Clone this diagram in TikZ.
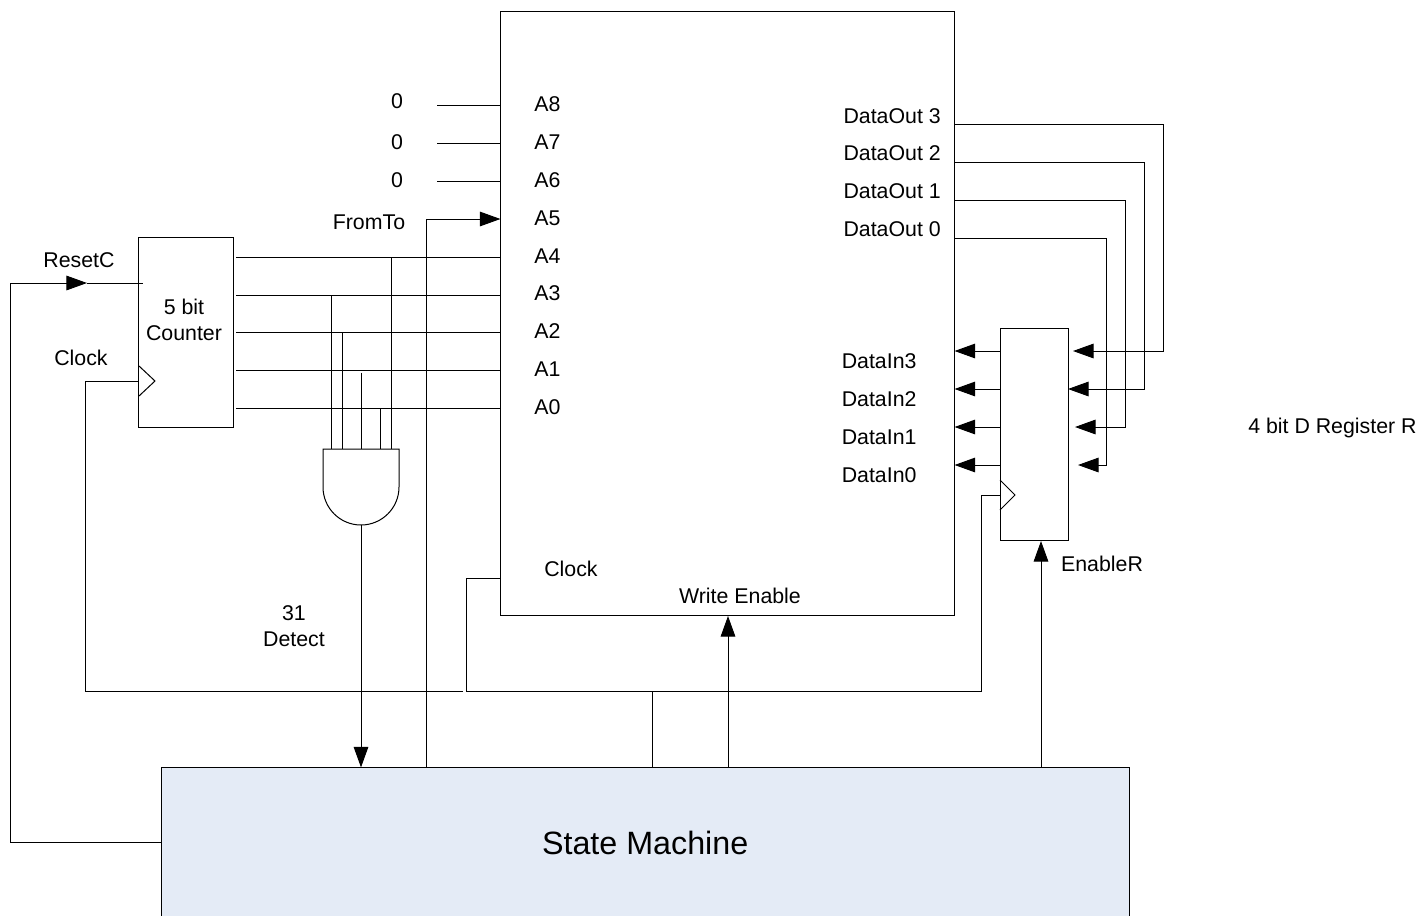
\documentclass[tikz,border=0pt]{standalone}
\usepackage{fontspec}
\setmainfont{Liberation Sans}
\usetikzlibrary{arrows.meta, positioning}
\definecolor{smblue}{RGB}{228,235,246}

\begin{document}
\begin{tikzpicture}[
    x=0.75pt, y=-0.75pt,
    block/.style={
        rectangle, draw=black, line width=0.75pt,
        inner sep=0pt, outer sep=0pt
    },
    txt/.style={font=\fontsize{16}{19}\selectfont, inner sep=0pt, text=black},
    wire/.style={line width=0.75pt, black},
    arr/.style={-{Triangle[length=15.5pt, width=11pt]}, line width=0.75pt, black}
]
\useasboundingbox (0,0) rectangle (1422,915);

% Memory
\node[block, minimum width=11.97cm, minimum height=15.93cm] (mem) at (727.5,313.5) {};

% Counter
\node[block, left=7.03cm of mem, yshift=-0.5cm, minimum width=2.52cm, minimum height=4.99cm] (counter) {};
\node[txt, align=center] (counterlbl) at (184,320) {5 bit\\Counter};

% Register
\node[block, right=1.22cm of mem, yshift=-3.19cm, minimum width=1.79cm, minimum height=5.58cm] (reg) {};
\node[txt, anchor=west] (reglbl) at (1248,428) {4 bit D Register R};

% State machine
\node[block, below=4cm of mem, xshift=-2.17cm, fill=smblue, minimum width=25.51cm, minimum height=3.97cm,
    font=\fontsize{24.2}{28}\selectfont] (sm) {State Machine};

% AND gate
\coordinate (gnw) at (323,449);
\coordinate (gne) at (399,449);
\coordinate (gout) at (361,525);
\draw[wire] (gnw) -- (gne) -- (399,487) arc[start angle=0, end angle=180, radius=38] -- cycle;

% Address labels
\node[txt, anchor=west] (a8) at (534,104) {A8};
\node[txt, anchor=west] (a7) at (534,142) {A7};
\node[txt, anchor=west] (a6) at (534,180) {A6};
\node[txt, anchor=west] (a5) at (534,218) {A5};
\node[txt, anchor=west] (a4) at (534,256) {A4};
\node[txt, anchor=west] (a3) at (534,293) {A3};
\node[txt, anchor=west] (a2) at (534,331) {A2};
\node[txt, anchor=west] (a1) at (534,369) {A1};
\node[txt, anchor=west] (a0) at (534,407) {A0};
\node[txt] (zero8) at (397,101) {0};
\node[txt] (zero7) at (397,142) {0};
\node[txt] (zero6) at (397,180) {0};

% Data labels
\node[txt, anchor=east] (dout3) at (941,116) {DataOut 3};
\node[txt, anchor=east] (dout2) at (941,153) {DataOut 2};
\node[txt, anchor=east] (dout1) at (941,191) {DataOut 1};
\node[txt, anchor=east] (dout0) at (941,229) {DataOut 0};
\node[txt, anchor=west] (din3) at (841.5,361) {DataIn3};
\node[txt, anchor=west] (din2) at (841.5,399) {DataIn2};
\node[txt, anchor=west] (din1) at (841.5,437) {DataIn1};
\node[txt, anchor=west] (din0) at (841.5,475) {DataIn0};

% Other labels
\node[txt] (fromto) at (369,222) {FromTo};
\node[txt] (resetc) at (79,260) {ResetC};
\node[txt] (clkc) at (81,358) {Clock};
\node[txt] (clkm) at (571,569) {Clock};
\node[txt] (we) at (740,596) {Write Enable};
\node[txt] (enr) at (1102,564) {EnableR};
\node[txt, align=center] (detect) at (294,626) {31\\Detect};

% Constant address lines
\draw[wire] (437,105) -- (mem.west |- 437,105);
\draw[wire] (437,143) -- (mem.west |- 437,143);
\draw[wire] (437,181) -- (mem.west |- 437,181);

% Counter outputs
\coordinate (q4) at (236,257);
\coordinate (q3) at (236,295);
\coordinate (q2) at (236,332.5);
\coordinate (q1) at (236,370.5);
\coordinate (q0) at (236,408);
\draw[wire] (q4) -- (mem.west |- q4);
\draw[wire] (q3) -- (mem.west |- q3);
\draw[wire] (q2) -- (mem.west |- q2);
\draw[wire] (q1) -- (mem.west |- q1);
\draw[wire] (q0) -- (mem.west |- q0);

% Gate inputs
\draw[wire] (331,295) -- (331,449);
\draw[wire] (342,332.5) -- (342,449);
\draw[wire] (361,372.5) -- (361,449);
\draw[wire] (380,408) -- (380,449);
\draw[wire] (391,257) -- (391,449);

% Data out to register
\coordinate (r3) at (1163,351);
\coordinate (r2) at (1144,389);
\coordinate (r1) at (1125,427);
\coordinate (r0) at (1106,465);
\coordinate (t3) at (1073,351);
\coordinate (t2) at (1068,389);
\coordinate (t1) at (1075,427);
\coordinate (t0) at (1078,465);
\draw[arr] (mem.east |- 0,124.5) -- (1163,124.5) -- (r3) -- (t3);
\draw[arr] (mem.east |- 0,162.5) -- (1144,162.5) -- (r2) -- (t2);
\draw[arr] (mem.east |- 0,200.5) -- (1125,200.5) -- (r1) -- (t1);
\draw[arr] (mem.east |- 0,238) -- (1106,238) -- (r0) -- (t0);

% Register to data in
\draw[arr] (reg.west |- r3) -- (mem.east |- r3);
\draw[arr] (reg.west |- r2) -- (mem.east |- r2);
\draw[arr] (reg.west |- r1) -- (mem.east |- r1);
\draw[arr] (reg.west |- r0) -- (mem.east |- r0);

% Clock tabs
\coordinate (cc) at (139,381);
\coordinate (cr) at (1000,495);
\draw[wire] (139,366) -- (155,381) -- (139,396);
\draw[wire] (1000,480) -- (1015,495) -- (1000,510);

% Clock wiring
\coordinate (busl) at (85,691);
\coordinate (busm) at (466,691);
\coordinate (busr) at (981,691);
\draw[wire] (sm.north -| 652,0) -- (652,691);
\draw[wire] (cr) -- (busr |- cr) -- (busr) -- (busm) -- (466,578) -- (mem.west |- 0,578);
\draw[wire] (463,691) -- (busl) -- (busl |- cc) -- (cc);

% State machine signals
\coordinate (rstm) at (87,283);
\coordinate (rstb) at (10,283);
\draw[arr] (sm.west) -- (rstb |- sm.west) -- (rstb) -- (rstm);
\draw[wire] (rstm) -- (143,283);
\draw[arr] (gout) -- (gout |- sm.north);
\draw[arr] (sm.north -| 426,0) -- (426,219) -- (mem.west |- 0,219);
\draw[arr] (sm.north -| 728,0) -- (728,616);
\draw[arr] (sm.north -| 1041,0) -- (1041,541);

\end{tikzpicture}
\end{document}
